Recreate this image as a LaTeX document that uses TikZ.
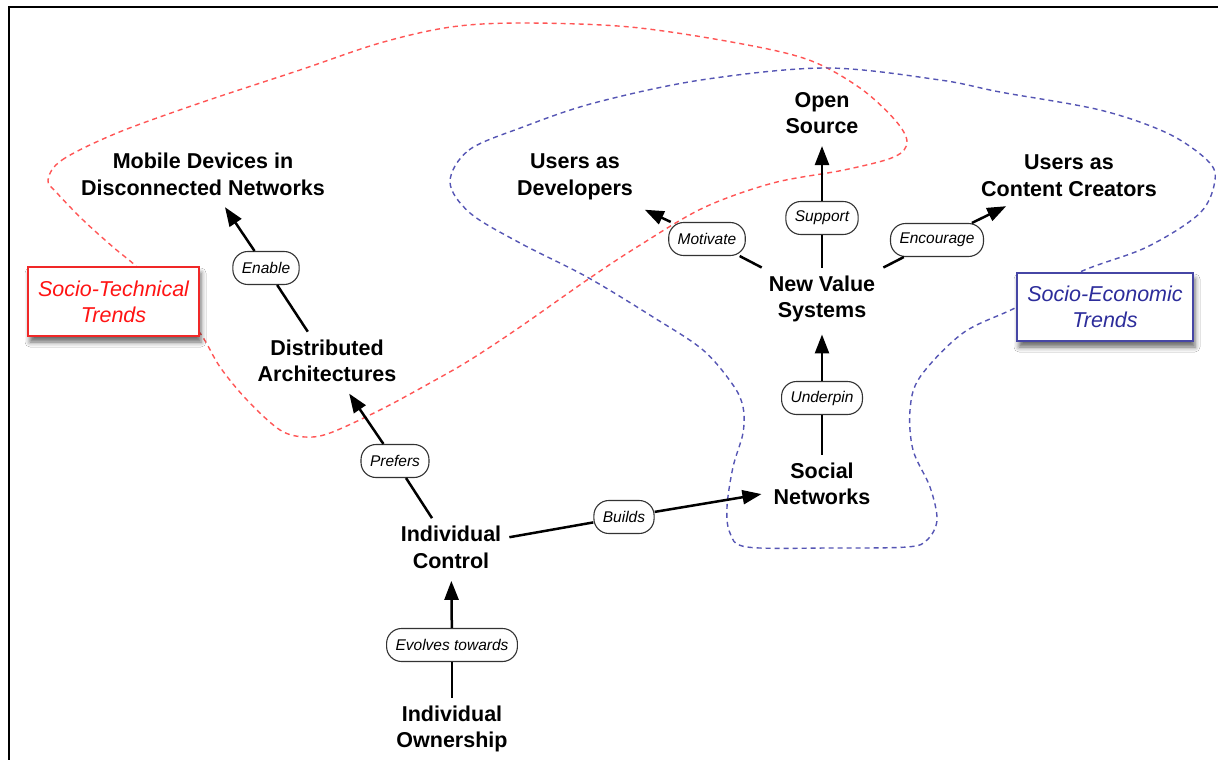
\documentclass[tikz,border=0pt]{standalone}
\usepackage{fontspec}
\setmainfont{Liberation Sans}
\usetikzlibrary{arrows.meta,shadows.blur}
\definecolor{dashred}{RGB}{255,85,85}
\definecolor{dashblue}{RGB}{85,85,180}
\definecolor{legred}{RGB}{240,40,40}
\definecolor{legredtext}{RGB}{255,20,20}
\definecolor{legblue}{RGB}{70,70,165}
\definecolor{legbluetext}{RGB}{45,45,155}
\begin{document}
\begin{tikzpicture}[x=1pt,y=-1pt,
  concept/.style={align=center,font=\fontsize{21.5}{26.5}\selectfont\bfseries,inner sep=8pt},
  linklabel/.style={draw=black!80,fill=white,rounded corners=15pt,minimum height=33pt,
    inner xsep=9pt,inner ysep=0pt,font=\fontsize{15.5}{18}\selectfont\itshape,line width=1.1pt},
  conn/.style={line width=2.5pt},
  arr/.style={conn,-{Triangle[length=19pt,width=14pt]},shorten >=4pt},
  redzone/.style={draw=dashred,dash pattern=on 5pt off 4pt,line width=1.4pt},
  bluezone/.style={draw=dashblue,dash pattern=on 5pt off 4pt,line width=1.4pt},
  legend/.style={fill=white,line width=1.6pt,align=center,inner sep=0pt,
    font=\fontsize{21.5}{26}\selectfont\itshape,
    blur shadow={shadow xshift=2pt,shadow yshift=-6pt,shadow blur radius=5pt,shadow opacity=60}}
]
\useasboundingbox (0,0) rectangle (1218,760);
\fill[white] (0,0) rectangle (1218,760);
% frame
\draw[line width=2.8pt] (9,762) -- (9,7) -- (1220,7);

% socio-technical zone
\draw[redzone] plot[smooth cycle,tension=0.55] coordinates {
 (48,180) (62,160) (117,133) (200,103) (300,70) (380,43) (451,27) (523,23)
 (630,27) (737,43) (809,60) (860,88) (895,120) (907,142) (894,157) (844,170)
 (773,183) (703,208) (637,247) (587,280) (520,327) (470,360) (430,383) (380,410)
 (330,433) (305,437) (280,430) (247,400) (220,367) (200,333) (170,300) (137,267)
 (113,247) (83,220) (57,193)};
% socio-economic zone
\draw[bluezone] plot[smooth cycle,tension=0.55] coordinates {
 (450,182) (469,150) (523,127) (594,103) (701,80) (826,68) (940,80) (1000,92)
 (1100,110) (1167,133) (1207,160) (1215,180) (1200,213) (1147,247) (1080,272)
 (1017,307) (963,333) (920,377) (910,410) (913,450) (930,487) (937,520) (927,540)
 (907,547) (830,548) (747,547) (730,533) (727,507) (733,467) (743,433) (743,407)
 (733,385) (703,350) (653,317) (587,277) (520,243) (470,213)};

% legends
\node[legend,draw=legred,text=legredtext,minimum width=171pt,minimum height=69pt]
  (techlegend) at (113.5,301.5) {Socio-Technical\\Trends};
\node[legend,draw=legblue,text=legbluetext,minimum width=176pt,minimum height=68pt]
  (econlegend) at (1105,307) {Socio-Economic\\Trends};

% concepts
\node[concept] (mobile) at (203,174.5) {Mobile Devices in\\Disconnected Networks};
\node[concept] (distributed) at (327,361) {Distributed\\Architectures};
\node[concept] (control) at (451,547.5) {Individual\\Control};
\node[concept] (ownership) at (452,729) {Individual\\Ownership};
\node[concept] (social) at (822,484) {Social\\Networks};
\node[concept] (newvalue) at (822,299) {New Value\\Systems};
\node[concept] (opensrc) at (822,113) {Open\\Source};
\node[concept] (developers) at (575,177) {Users as\\Developers};
\node[concept] (creators) at (1069,175.5) {Users as\\Content Creators};

% link labels
\node[linklabel] (evolves) at (452,645) {Evolves towards};
\node[linklabel] (builds) at (624,517) {Builds};
\node[linklabel] (prefers) at (395,461) {Prefers};
\node[linklabel] (enable) at (266,268) {Enable};
\node[linklabel] (underpin) at (822,398) {Underpin};
\node[linklabel] (support) at (822,218) {Support};
\node[linklabel] (motivate) at (707,239) {Motivate};
\node[linklabel] (encourage) at (937,240) {Encourage};

% connectors
\draw[conn] (ownership) -- (evolves);
\draw[arr] (evolves) -- (control);
\draw[conn] (control) -- (builds);
\draw[arr] (builds) -- (social);
\draw[conn] (control) -- (prefers);
\draw[arr] (prefers) -- (distributed);
\draw[conn] (distributed) -- (enable);
\draw[arr] (enable) -- (mobile);
\draw[conn] (social) -- (underpin);
\draw[arr] (underpin) -- (newvalue);
\draw[conn] (newvalue) -- (support);
\draw[arr] (support) -- (opensrc);
\draw[conn] (newvalue) -- (motivate);
\draw[arr] (motivate) -- (developers);
\draw[conn] (newvalue) -- (encourage);
\draw[arr] (encourage) -- (creators);
\end{tikzpicture}
\end{document}
